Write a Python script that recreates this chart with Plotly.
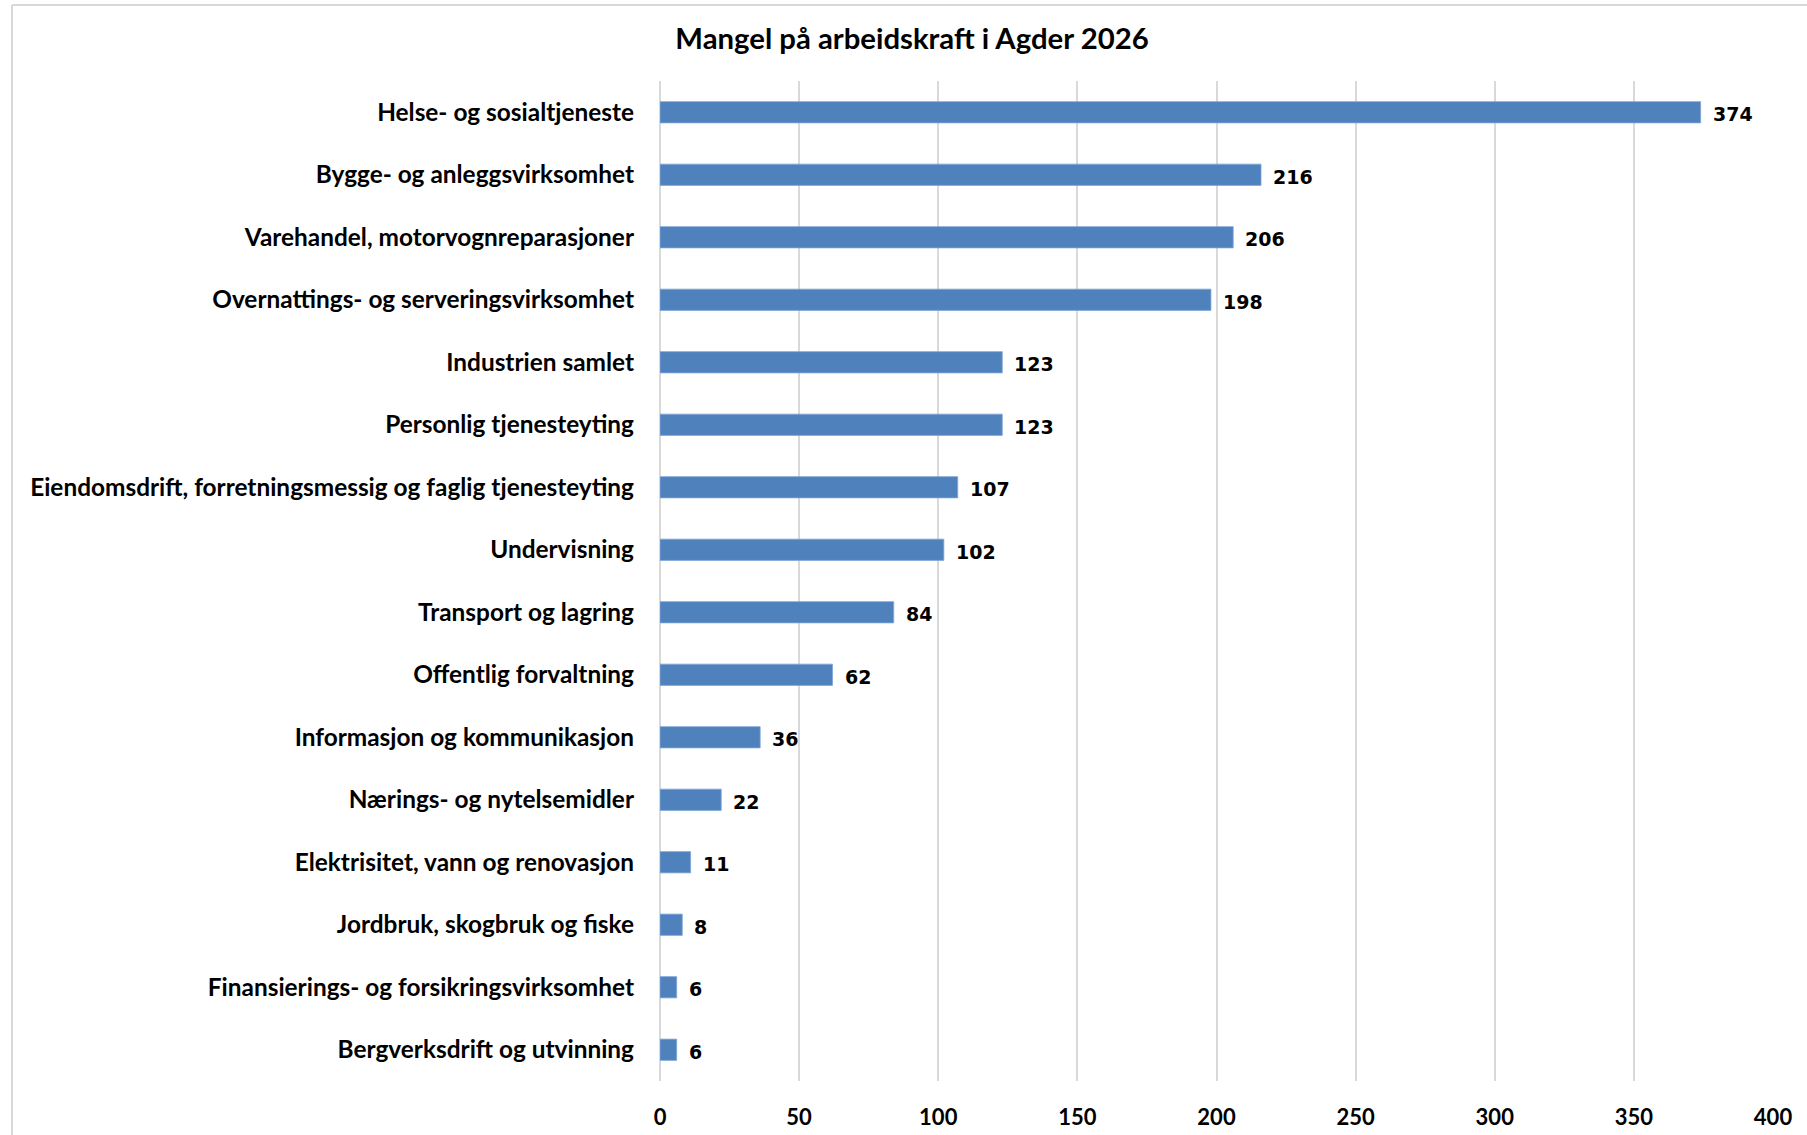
import plotly.graph_objects as go

title = "Mangel på arbeidskraft i Agder 2026"
categories = [
    "Helse- og sosialtjeneste",
    "Bygge- og anleggsvirksomhet",
    "Varehandel, motorvognreparasjoner",
    "Overnattings- og serveringsvirksomhet",
    "Industrien samlet",
    "Personlig tjenesteyting",
    "Eiendomsdrift, forretningsmessig og faglig tjenesteyting",
    "Undervisning",
    "Transport og lagring",
    "Offentlig forvaltning",
    "Informasjon og kommunikasjon",
    "Nærings- og nytelsemidler",
    "Elektrisitet, vann og renovasjon",
    "Jordbruk, skogbruk og fiske",
    "Finansierings- og forsikringsvirksomhet",
    "Bergverksdrift og utvinning",
]
values = [374, 216, 206, 198, 123, 123, 107, 102, 84, 62, 36, 22, 11, 8, 6, 6]
x_ticks = [0, 50, 100, 150, 200, 250, 300, 350, 400]

W, H = 1807, 1135
L, R, T, B = 660, 34, 81, 54

fig = go.Figure()
fig.add_trace(go.Bar(
    x=values, y=categories, orientation="h",
    marker=dict(color="#4F81BD", line=dict(color="#7EA6D8", width=0.8)),
    hoverinfo="x+y",
))

for c, v in zip(categories, values):
    fig.add_annotation(
        x=v, y=c, text=str(v), showarrow=False,
        xanchor="left", yanchor="middle", xshift=10, yshift=-2,
        font=dict(family="DejaVu Sans", size=19, color="#000000", weight="bold"),
    )

pw = W - L - R
ph = H - T - B
def px_x(p):
    return (p - L) / pw
def px_y(p):
    return (H - B - p) / ph

grey = "#D9D9D9"
fig.add_shape(type="line", xref="paper", yref="paper",
              x0=px_x(12), x1=px_x(W + 5), y0=px_y(5), y1=px_y(5),
              line=dict(color=grey, width=2))
fig.add_shape(type="line", xref="paper", yref="paper",
              x0=px_x(12), x1=px_x(12), y0=px_y(5), y1=px_y(H + 5),
              line=dict(color=grey, width=2))

fig.update_layout(
    width=W, height=H,
    margin=dict(l=L, r=R, t=T, b=B, autoexpand=False),
    paper_bgcolor="white", plot_bgcolor="white",
    bargap=0.66,
    showlegend=False,
    title=dict(text=title, x=912 / W, xanchor="center", y=1 - 39 / H, yanchor="middle",
               font=dict(family="Lato", size=29.3, color="#000000", weight="bold")),
    xaxis=dict(range=[0, 400], tickvals=x_ticks, showgrid=True, gridcolor=grey, gridwidth=1.5,
               zeroline=True, zerolinecolor=grey, zerolinewidth=1.5,
               showline=False, ticks="",
               ticklabelstandoff=21,
               tickfont=dict(family="Lato", size=22, color="#000000", weight="bold")),
    yaxis=dict(autorange="reversed", showgrid=False, zeroline=False, showline=False, ticks="",
               ticklabelstandoff=25,
               tickfont=dict(family="Lato", size=24.4, color="#000000", weight="bold")),
)

fig.write_html("out.html", config={"displayModeBar": False},
               post_script="document.body.style.margin='0';")
